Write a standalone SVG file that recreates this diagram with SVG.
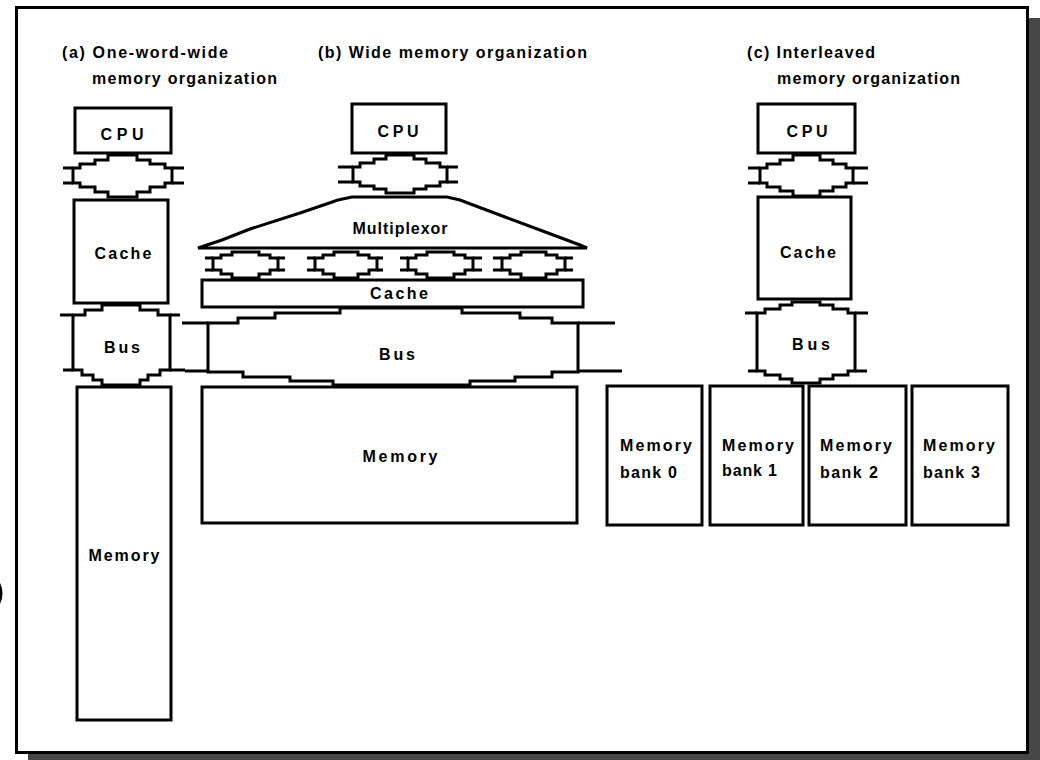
<svg xmlns="http://www.w3.org/2000/svg" width="1040" height="760" viewBox="0 0 1040 760">
<style>
.box{fill:#fff;stroke:#000;stroke-width:3}
.bus{fill:#fff;stroke:#000;stroke-width:3;stroke-linejoin:miter}
.tab{fill:none;stroke:#000;stroke-width:3}
.lbl{font-family:"Liberation Sans",Arial,sans-serif;font-size:16px;font-weight:bold;fill:#000}
.ttl{font-size:16px}
.mid{text-anchor:middle}
</style>
<rect x="0" y="0" width="1040" height="760" fill="#fff"/>
<rect x="28" y="18" width="1012" height="742" fill="#474747"/>
<rect x="16.5" y="7.5" width="1011" height="745" fill="#fff" stroke="#000" stroke-width="3"/>
<path d="M-4,579 Q6,593 -4,608" fill="none" stroke="#000" stroke-width="3"/>

<g id="titles">
  <text class="lbl ttl" x="62" y="58" textLength="166" lengthAdjust="spacing">(a) One-word-wide</text>
  <text class="lbl ttl" x="92" y="84" textLength="185" lengthAdjust="spacing">memory organization</text>
  <text class="lbl ttl" x="318" y="58" textLength="269" lengthAdjust="spacing">(b) Wide memory organization</text>
  <text class="lbl ttl" x="747" y="58" textLength="128" lengthAdjust="spacing">(c) Interleaved</text>
  <text class="lbl ttl" x="777" y="84" textLength="183" lengthAdjust="spacing">memory organization</text>
</g>

<!-- (a) -->
<g id="a-cpu"><rect class="box" x="75" y="108" width="96" height="45"/><text class="lbl mid" x="122" y="140" textLength="43" lengthAdjust="spacing">CPU</text></g>
<g id="a-cache"><rect class="box" x="74" y="200" width="94" height="103"/><text class="lbl mid" x="123" y="259" textLength="57" lengthAdjust="spacing">Cache</text></g>
<g id="a-memory"><rect class="box" x="77" y="387" width="94" height="333"/><text class="lbl mid" x="124" y="561" textLength="71" lengthAdjust="spacing">Memory</text></g>

<!-- (b) -->
<g id="b-cpu"><rect class="box" x="352" y="104" width="94" height="49"/><text class="lbl mid" x="398" y="137" textLength="41" lengthAdjust="spacing">CPU</text></g>
<g id="b-mux"><path class="bus" d="M198,248 L222,240 L250,229 L300,213 L338,200 L352,197 H447 L460,200 L505,217 L548,233 L580,245 L587,248 Z"/><text class="lbl mid" x="400" y="234" textLength="95" lengthAdjust="spacing">Multiplexor</text></g>
<g id="b-cache"><rect class="box" x="202" y="280" width="381" height="27"/><text class="lbl mid" x="399" y="299" textLength="58" lengthAdjust="spacing">Cache</text></g>
<g id="b-memory"><rect class="box" x="202" y="387" width="375" height="136"/><text class="lbl mid" x="400" y="462" textLength="75" lengthAdjust="spacing">Memory</text></g>

<!-- (c) -->
<g id="c-cpu"><rect class="box" x="758" y="104" width="97" height="49"/><text class="lbl mid" x="807" y="137" textLength="41" lengthAdjust="spacing">CPU</text></g>
<g id="c-cache"><rect class="box" x="758" y="197" width="93" height="102"/><text class="lbl mid" x="808" y="258" textLength="56" lengthAdjust="spacing">Cache</text></g>
<g id="c-bank0"><rect class="box" x="607" y="386" width="95" height="139"/><text class="lbl" x="620" y="451" textLength="72" lengthAdjust="spacing">Memory</text><text class="lbl" x="620" y="478" textLength="57" lengthAdjust="spacing">bank 0</text></g>
<g id="c-bank1"><rect class="box" x="710" y="386" width="93" height="139"/><text class="lbl" x="722" y="451" textLength="72" lengthAdjust="spacing">Memory</text><text class="lbl" x="722" y="476" textLength="55" lengthAdjust="spacing">bank 1</text></g>
<g id="c-bank2"><rect class="box" x="809" y="386" width="97" height="139"/><text class="lbl" x="820" y="451" textLength="72" lengthAdjust="spacing">Memory</text><text class="lbl" x="820" y="478" textLength="58" lengthAdjust="spacing">bank 2</text></g>
<g id="c-bank3"><rect class="box" x="912" y="386" width="96" height="139"/><text class="lbl" x="923" y="451" textLength="72" lengthAdjust="spacing">Memory</text><text class="lbl" x="923" y="478" textLength="57" lengthAdjust="spacing">bank 3</text></g>

<g id="connectors">
  <g id="a-bus1">
    <path class="bus" d="M73,168 H80 V164 H95 V160 H108 V155 H137 V160 H150 V164 H165 V168 H172 V183 H165 V187 H150 V192 H137 V197 H108 V192 H95 V187 H80 V183 H73 Z"/>
    <path class="tab" d="M63,168 H73 M63,183 H73 M172,168 H184 M172,183 H184"/>
  </g>
  <g id="a-bus2">
    <path class="bus" d="M73,315 H85 V310 H102 V305 H140 V310 H158 V315 H170 V370 H160 V375 H148 V380 H140 V385 H102 V380 H93 V375 H82 V370 H73 Z"/>
    <path class="tab" d="M60,315 H73 M170,315 H180 M63,370 H73 M170,370 H185"/>
    <text class="lbl mid" x="122" y="353" textLength="36" lengthAdjust="spacing">Bus</text>
  </g>
  <g id="b-bus1">
    <path class="bus" d="M353,167 H360 V163 H374 V159 H386 V155 H414 V159 H426 V163 H440 V167 H447 V182 H440 V186 H426 V189 H414 V193 H386 V189 H374 V186 H360 V182 H353 Z"/>
    <path class="tab" d="M338,167 H353 M338,182 H353 M447,167 H458 M447,182 H458"/>
  </g>
  <g id="b-wide-links">
    <path class="bus" d="M213,258 H221 V255 H232 V252 H259 V255 H270 V258 H278 V270 H270 V274 H259 V278 H232 V274 H221 V270 H213 Z"/>
    <path class="bus" d="M315,258 H323 V255 H334 V252 H358 V255 H369 V258 H377 V270 H369 V274 H358 V278 H334 V274 H323 V270 H315 Z"/>
    <path class="bus" d="M408,258 H416 V255 H427 V252 H454 V255 H465 V258 H473 V270 H465 V274 H454 V278 H427 V274 H416 V270 H408 Z"/>
    <path class="bus" d="M502,258 H510 V255 H521 V252 H546 V255 H557 V258 H565 V270 H557 V274 H546 V278 H521 V274 H510 V270 H502 Z"/>
    <path class="tab" d="M205,258 H213 M205,270 H213 M278,258 H285 M278,270 H285 M307,258 H315 M307,270 H315 M377,258 H383 M377,270 H383 M400,258 H408 M400,270 H408 M473,258 H482 M473,270 H482 M493,258 H502 M493,270 H502 M565,258 H573 M565,270 H573"/>
  </g>
  <g id="b-bus2">
    <path class="bus" d="M208,323 H238 V318 H275 V313 H340 V308 H462 V313 H520 V318 H552 V323 H578 V372 H552 V377 H515 V381 H470 V385 H333 V381 H290 V377 H243 V372 H208 Z"/>
    <path class="tab" d="M182,323 H208 M185,371 H208 M578,323 H615 M578,371 H622"/>
    <text class="lbl mid" x="397" y="360" textLength="36" lengthAdjust="spacing">Bus</text>
  </g>
  <g id="c-bus1">
    <path class="bus" d="M760,168 H767 V164 H780 V160 H793 V155 H820 V160 H833 V164 H846 V168 H853 V183 H846 V187 H833 V191 H820 V196 H793 V191 H780 V187 H767 V183 H760 Z"/>
    <path class="tab" d="M748,168 H760 M748,183 H760 M853,168 H868 M853,183 H868"/>
  </g>
  <g id="c-bus2">
    <path class="bus" d="M757,313 H765 V309 H780 V305 H792 V302 H820 V305 H833 V309 H848 V313 H855 V371 H848 V375 H833 V379 H820 V383 H792 V379 H780 V375 H765 V371 H757 Z"/>
    <path class="tab" d="M745,313 H757 M855,313 H868 M748,371 H757 M855,371 H867"/>
    <text class="lbl mid" x="811" y="350" textLength="38" lengthAdjust="spacing">Bus</text>
  </g>
</g>
</svg>
